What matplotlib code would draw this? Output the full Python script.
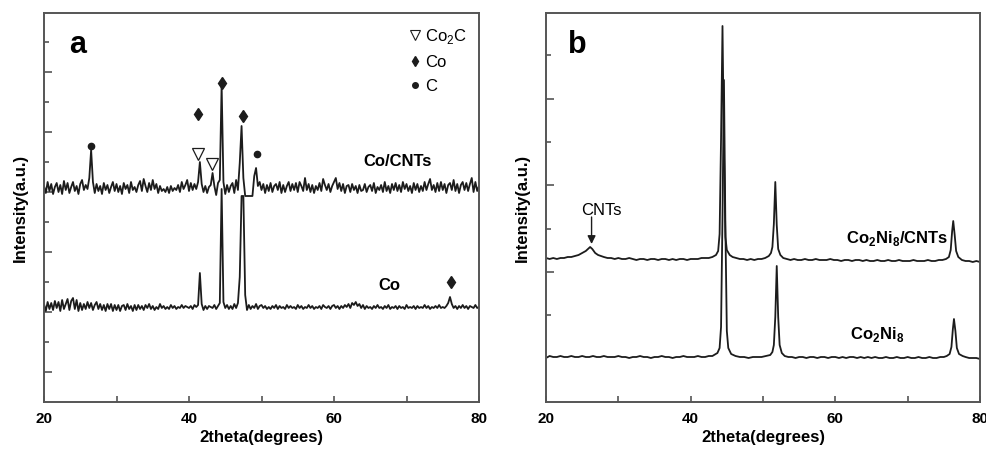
import numpy as np
import matplotlib
matplotlib.use("Agg")
import matplotlib.pyplot as plt
from matplotlib.lines import Line2D

plt.rcParams['font.family'] = ['Liberation Sans Narrow', 'Liberation Sans', 'DejaVu Sans']
plt.rcParams['mathtext.fontset'] = 'custom'
plt.rcParams['mathtext.rm'] = 'Liberation Sans'
plt.rcParams['mathtext.bf'] = 'Liberation Sans:bold'

# ---- panel a: XRD of Co/CNTs and Co, 0.25 deg step from 20 deg (counts above baseline)
a_step = 0.25
a_cnt_counts = [
    2, -5, 6, -3, 4, -6, 1, 5, -4, 3, -6, 7, -2, 5, -5, 1, 6, -3, 2, -6,
    4, 8, -2, 3, -1, 10, 38, 6, -5, 4, -3, 2, -6, 5, -2, 3, -5, 1, 6, -3,
    4, -4, 2, -6, 5, -1, 3, -5, 6, -2, 1, -4, 3, 7, -3, 9, 2, -4, 5, -2,
    8, -1, 4, -5, 2, -3, -1, -4, 1, -5, 2, -3, 0, -2, 3, -4, 6, -1, 3, 8,
    -3, 5, -2, 4, -1, 6, 26, 4, -4, 2, -5, 1, 3, 15, 2, -7, 5, 8, 103, 6,
    -6, 3, -4, 2, 5, -5, 8, -2, 25, 62, 10, -8, -8, -8, -8, -8, 12, 20, 2, 6,
    -2, 4, -5, 3, -3, 5, -4, 2, 4, -2, 6, -5, 3, -4, 2, 6, -3, 4, -2, 5,
    -4, 6, 2, -3, 10, -2, 4, -4, 3, -5, 2, -2, 5, -3, 9, 3, -2, 4, -4, 2,
    6, 10, -1, 5, -3, 4, -5, 2, 3, -4, 4, -2, 2, -5, 3, -3, -2, 4, -4, 1,
    3, -3, 5, -5, 1, -2, 3, -4, 6, -3, 2, -5, 4, -2, 5, -3, 3, -4, 6, -1,
    4, -3, 2, -5, 5, -2, 4, -4, 2, -3, 6, -2, 4, 9, -2, 3, -4, 5, -3, 6,
    -2, 4, -5, 3, 5, -2, 8, -3, 4, -5, 3, 6, -2, 5, -3, 4, 10, -4, 6, -3,
    2,
]
a_co_counts = [
    3, -4, 5, -2, 4, -3, 6, -1, 5, -4, 7, -2, 3, 8, -3, 6, 9, -2, 7, -4,
    4, -3, 3, -2, 5, -1, 4, -3, 2, 5, -2, 3, -3, 2, -4, 3, -2, 3, -4, 2,
    -3, 2, -4, 1, 2, -3, 3, -2, 1, -4, 2, -3, 2, -2, 1, -3, 2, -1, 3, -2,
    1, -3, 0, -2, 3, -1, 1, -2, 0, -2, 2, -1, 1, -2, 0, -1, 2, -1, 1, 0,
    -1, 1, -2, 2, 0, 2, 34, 3, -3, 1, -2, 1, 0, -1, 2, -2, 1, 4, 118, 5,
    -1, 2, -2, 1, -2, 3, -1, 4, 30, 111, 111, 12, -3, 2, -2, 1, -1, 3, -2, 1,
    2, -1, 1, -2, 0, -2, 1, -1, 2, -2, 1, -1, 0, -2, 2, -1, 1, -1, 0, -2,
    2, -1, 1, -2, 0, -1, 2, -1, 1, -2, 0, -1, 1, -2, 2, 0, -1, 1, -2, 1,
    2, -1, 1, -2, 1, -1, 2, 0, 3, -1, 4, 2, 5, 1, 3, -1, 2, -2, 1, -1,
    0, -2, 1, -1, 2, -1, 0, -2, 1, -1, 2, -2, 0, -1, 1, -2, 1, -1, 0, -2,
    2, -1, 0, -1, 1, -2, 1, -1, 0, -1, 2, -1, 1, -2, 0, -1, 1, -1, 2, -1,
    0, -1, 1, 4, 10, 3, -1, 1, -2, 1, -1, 2, -1, 1, -2, 1, 0, -1, 2, -1,
    0,
]
a_cnt_offset = 214
a_co_offset = 95

# peak assignment markers (2theta, height)
a_co_marks = [(41.3, 288), (44.6, 319), (47.5, 286), (76.1, 120)]
a_c_marks = [(26.5, 256), (49.4, 248)]
a_co2c_marks = [(41.3, 248), (43.2, 238)]

# ---- panel b: XRD of Co2Ni8/CNTs and Co2Ni8 (2theta, counts above baseline)
b_cnt_trace = [
    (20.0, 1), (20.5, 0), (21.0, 1), (21.5, 0), (22.0, 1), (22.5, 1), (23.0, 2),
    (23.5, 2), (24.0, 3), (24.5, 4), (25.0, 6), (25.5, 8), (25.8, 10), (26.1, 12),
    (26.4, 10), (26.8, 6), (27.2, 4), (27.6, 3), (28.0, 2), (28.5, 1), (29.0, 1),
    (29.5, 0), (30.0, 1), (30.5, 0), (31.0, 0), (31.5, 1), (32.0, 0), (32.5, -1),
    (33.0, 0), (33.5, 0), (34.0, -1), (34.5, 0), (35.0, 0), (35.5, -1), (36.0, 0),
    (36.5, 0), (37.0, -1), (37.5, 0), (38.0, -1), (38.5, 0), (39.0, 0), (39.5, -1),
    (40.0, 0), (40.5, 0), (41.0, 0), (41.5, 1), (42.0, 1), (42.5, 1), (43.0, 2),
    (43.5, 4), (43.8, 8), (44.0, 25), (44.2, 120), (44.4, 233), (44.6, 110),
    (44.8, 22), (45.0, 9), (45.4, 4), (45.8, 2), (46.3, 1), (46.8, 0), (47.3, 0),
    (47.8, -1), (48.3, 0), (48.8, -1), (49.3, 0), (49.8, 0), (50.3, 1), (50.8, 3),
    (51.1, 6), (51.3, 12), (51.5, 35), (51.7, 77), (51.9, 34), (52.1, 10),
    (52.4, 4), (52.8, 1), (53.3, 0), (53.8, -1), (54.3, 0), (54.8, -1), (55.3, -1),
    (55.8, 0), (56.3, -1), (56.8, -1), (57.3, 0), (57.8, -1), (58.3, -1), (58.8, -1),
    (59.3, 0), (59.8, -1), (60.3, -1), (60.8, -2), (61.3, -1), (61.8, -1), (62.3, -2),
    (62.8, -1), (63.3, -1), (63.8, -2), (64.3, -1), (64.8, -2), (65.3, -2), (65.8, -1),
    (66.3, -2), (66.8, -2), (67.3, -1), (67.8, -2), (68.3, -2), (68.8, -1), (69.3, -2),
    (69.8, -2), (70.3, -2), (70.8, -1), (71.3, -2), (71.8, -2), (72.3, -2), (72.8, -1),
    (73.3, -2), (73.8, -2), (74.3, -1), (74.8, -1), (75.3, 0), (75.7, 2), (75.95, 9),
    (76.15, 28), (76.3, 38), (76.5, 24), (76.7, 8), (77.0, 2), (77.5, -1), (78.0, -2),
    (78.5, -2), (79.0, -3), (79.5, -2), (80.0, -3),
]
b_co_trace = [
    (20.0, -1), (20.5, 1), (21.0, 0), (21.5, 0), (22.0, 1), (22.5, 0), (23.0, 0),
    (23.5, 1), (24.0, 0), (24.5, 0), (25.0, 1), (25.5, 0), (26.0, 0), (26.5, 1),
    (27.0, 0), (27.5, 0), (28.0, 1), (28.5, 0), (29.0, 0), (29.5, 0), (30.0, 1),
    (30.5, 0), (31.0, 0), (31.5, -1), (32.0, 0), (32.5, 0), (33.0, 1), (33.5, 0),
    (34.0, 0), (34.5, -1), (35.0, 0), (35.5, 0), (36.0, 1), (36.5, 0), (37.0, 0),
    (37.5, -1), (38.0, 0), (38.5, 0), (39.0, 1), (39.5, 0), (40.0, 0), (40.5, 0),
    (41.0, 1), (41.5, 0), (42.0, 0), (42.5, 1), (43.0, 1), (43.7, 4), (44.0, 9),
    (44.2, 30), (44.4, 140), (44.6, 277), (44.8, 130), (45.0, 26), (45.2, 9),
    (45.6, 3), (46.2, 1), (46.8, 0), (47.4, 0), (48.0, -1), (48.6, 0), (49.2, 0),
    (49.8, 0), (50.4, 1), (51.0, 2), (51.3, 5), (51.5, 12), (51.7, 40), (51.9, 91),
    (52.1, 40), (52.3, 12), (52.6, 4), (53.0, 1), (53.5, 0), (54.0, 0), (54.5, -1),
    (55.0, 0), (55.5, 0), (56.0, -1), (56.5, 0), (57.0, 0), (57.5, -1), (58.0, 0),
    (58.5, 0), (59.0, -1), (59.5, 0), (60.0, 0), (60.5, -1), (61.0, 0), (61.5, -1),
    (62.0, 0), (62.5, 0), (63.0, -1), (63.5, 0), (64.0, -1), (64.5, 0), (65.0, -1),
    (65.5, 0), (66.0, -1), (66.5, -1), (67.0, 0), (67.5, -1), (68.0, -1), (68.5, 0),
    (69.0, -1), (69.5, -1), (70.0, 0), (70.5, -1), (71.0, -1), (71.5, 0), (72.0, -1),
    (72.5, -1), (73.0, 0), (73.5, -1), (74.0, -1), (74.5, 0), (75.0, 0), (75.4, 1),
    (75.8, 3), (76.05, 10), (76.25, 28), (76.4, 38), (76.6, 26), (76.8, 9), (77.1, 3),
    (77.6, 1), (78.0, 0), (78.5, -1), (79.0, -1), (79.5, -1), (80.0, -2),
]
b_cnt_offset = 143
b_co_offset = 45

line_kw = dict(color='#1c1c1c', lw=1.3)
fig = plt.figure(figsize=(9.87, 4.5), dpi=100)
ax_a = fig.add_axes([44 / 987, 48 / 450, 435 / 987, 389 / 450])
ax_b = fig.add_axes([546 / 987, 48 / 450, 434 / 987, 389 / 450])

# panel a traces
xa = 20 + a_step * np.arange(len(a_cnt_counts))
ax_a.plot(xa, np.array(a_cnt_counts) + a_cnt_offset, **line_kw)
xa2 = 20 + a_step * np.arange(len(a_co_counts))
ax_a.plot(xa2, np.array(a_co_counts) + a_co_offset, **line_kw)

mx, my = zip(*a_co_marks)
ax_a.plot(mx, my, 'd', color='#1c1c1c', ms=6)
mx, my = zip(*a_c_marks)
ax_a.plot(mx, my, 'o', color='#1c1c1c', ms=4.5)
mx, my = zip(*a_co2c_marks)
ax_a.plot(mx, my, 'v', mfc='white', mec='#1c1c1c', mew=0.9, ms=8)

ax_a.text(68.7, 241, 'Co/CNTs', ha='center', va='center', fontsize=12, fontweight='bold')
ax_a.text(67.6, 116, 'Co', ha='center', va='center', fontsize=12, fontweight='bold')
ax_a.text(0.078, 0.918, 'a', transform=ax_a.transAxes, ha='center', va='center',
          fontsize=22, fontweight='bold', family='Liberation Sans')

handles = [
    Line2D([], [], ls='none', marker='v', mfc='white', mec='#1c1c1c', mew=0.8, ms=7),
    Line2D([], [], ls='none', marker='d', color='#1c1c1c', ms=5.5),
    Line2D([], [], ls='none', marker='o', color='#1c1c1c', ms=4),
]
ax_a.legend(handles, ['Co$_2$C', 'Co', 'C'], loc='upper left', bbox_to_anchor=(0.815, 0.995),
            frameon=False, fontsize=12, handlelength=0.6, handletextpad=0.3, labelspacing=0.55,
            borderpad=0.2)

# panel b traces
xb, yb = np.array(b_cnt_trace).T
ax_b.plot(xb, yb + b_cnt_offset, **line_kw)
xb, yb = np.array(b_co_trace).T
ax_b.plot(xb, yb + b_co_offset, **line_kw)

ax_b.text(27.6, 192, 'CNTs', ha='center', va='center', fontsize=12)
ax_b.annotate('', xy=(26.3, 158), xytext=(26.3, 185),
              arrowprops=dict(arrowstyle='-|>', color='#1c1c1c', lw=1.0,
                              shrinkA=0, shrinkB=0, mutation_scale=12))
ax_b.text(68.5, 164, r'Co$_\mathbf{2}$Ni$_\mathbf{8}$/CNTs', ha='center', va='center',
          fontsize=12, fontweight='bold')
ax_b.text(65.8, 67, r'Co$_\mathbf{2}$Ni$_\mathbf{8}$', ha='center', va='center',
          fontsize=12, fontweight='bold')
ax_b.text(0.071, 0.918, 'b', transform=ax_b.transAxes, ha='center', va='center',
          fontsize=22, fontweight='bold', family='Liberation Sans')

# axes styling
for ax, ymaj, ymin in [(ax_a, [30, 90, 150, 210, 270, 330], [60, 120, 180, 240, 300, 360]),
                       (ax_b, [130, 216.7, 303.3], [86.7, 173.3, 260, 346.7])]:
    ax.set_xlim(20, 80)
    ax.set_ylim(0, 389)
    ax.set_xticks([20, 40, 60, 80])
    ax.set_xticks([30, 50, 70], minor=True)
    ax.set_yticks(ymaj)
    ax.set_yticks(ymin, minor=True)
    ax.set_yticklabels([])
    ax.tick_params(axis='both', which='both', direction='in', color='#555555', width=1.2)
    ax.tick_params(axis='y', which='major', length=6)
    ax.tick_params(axis='y', which='minor', length=3.5)
    ax.tick_params(axis='x', which='both', length=4, labelsize=11, pad=7)
    for lab in ax.get_xticklabels():
        lab.set_fontweight('bold')
    for s in ax.spines.values():
        s.set_color('#555555')
        s.set_linewidth(1.4)
    ax.set_xlabel('2theta(degrees)', fontsize=12, fontweight='bold', labelpad=3)
    ax.set_ylabel('Intensity(a.u.)', fontsize=12, fontweight='bold', labelpad=8)

fig.savefig('out.png', dpi=100)
